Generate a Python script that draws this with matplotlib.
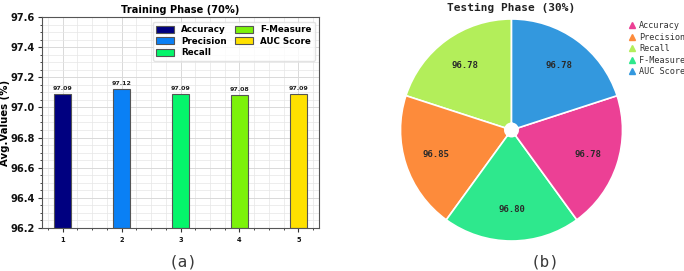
import matplotlib
matplotlib.use("Agg")
import matplotlib.pyplot as plt
from matplotlib.ticker import MultipleLocator
from matplotlib.lines import Line2D
import numpy as np

# ---- data ----
metrics = ["Accuracy", "Precision", "Recall", "F-Measure", "AUC Score"]
x_ticks = [1, 2, 3, 4, 5]
train_values = [97.09, 97.12, 97.09, 97.08, 97.09]
test_values = [96.78, 96.85, 96.78, 96.80, 96.78]
bar_colors = ["#000080", "#0a80f5", "#05f56b", "#7cf20a", "#ffe100"]
pie_colors = ["#ec4095", "#fd8b3b", "#b3ee5a", "#2ee88d", "#3398de"]
# order of wedges counter-clockwise from the top
pie_order = [2, 1, 3, 0, 4]

fig = plt.figure(figsize=(6.84, 2.71), dpi=100)

# ---- left: bar chart ----
ax = fig.add_axes([0.0614, 0.160, 0.405, 0.776])
ax.set_axisbelow(True)
for xi, v, c, lab in zip(x_ticks, train_values, bar_colors, metrics):
    ax.bar(xi, v - 96.2, bottom=96.2, width=0.3, color=c, edgecolor="#555555",
           linewidth=0.8, label=lab)
    ax.text(xi, v + 0.02, f"{v:.2f}", ha="center", va="bottom",
            fontsize=4.5, fontweight="bold", color="#222222")
ax.set_xlim(0.65, 5.35)
ax.set_ylim(96.2, 97.6)
ax.xaxis.set_major_locator(MultipleLocator(1))
ax.xaxis.set_minor_locator(MultipleLocator(0.25))
ax.yaxis.set_major_locator(MultipleLocator(0.2))
ax.yaxis.set_minor_locator(MultipleLocator(0.05))
ax.grid(which="major", color="#d9d9d9", linewidth=0.7)
ax.grid(which="minor", color="#e6e6e6", linewidth=0.5)
ax.tick_params(axis="y", labelsize=7.1, width=0.8, length=3, colors="#333333",
               labelcolor="#111111", pad=2)
ax.tick_params(axis="x", labelsize=4.8, width=0.8, length=3, colors="#333333",
               labelcolor="#111111")
ax.tick_params(which="minor", length=1.5, width=0.5)
for lbl in ax.get_yticklabels() + ax.get_xticklabels():
    lbl.set_fontweight("bold")
ax.set_ylabel("Avg.Values (%)", fontsize=7.3, fontweight="bold", va="center")
ax.yaxis.set_label_coords(-0.132, 0.5)
ax.set_title("Training Phase (70%)", fontsize=7.1, fontweight="bold", pad=3)
for s in ax.spines.values():
    s.set_color("#555555")
    s.set_linewidth(0.8)
leg = ax.legend(loc="upper right", ncol=2,
                prop={"weight": "bold", "size": 6.3}, frameon=True,
                handlelength=2.0, handleheight=0.9, columnspacing=1.0,
                labelspacing=0.3, borderpad=0.4, fancybox=True)
leg.get_frame().set_edgecolor("#dddddd")

fig.text(183 / 684, 1 - 262 / 271, "(a)", ha="center", va="center",
         fontsize=11.5, family="DejaVu Sans Mono", color="#3a3a3a")

# ---- right: pie chart ----
pax = fig.add_axes([400.5 / 684, (271 - 241) / 271, 222 / 684, 222 / 271])
vals = [test_values[i] for i in pie_order]
cols = [pie_colors[i] for i in pie_order]
wedges, texts = pax.pie(vals, colors=cols, startangle=90, counterclock=True,
                        wedgeprops=dict(width=0.94, edgecolor="white",
                                        linewidth=1.2))
for w, v in zip(wedges, vals):
    ang = np.deg2rad((w.theta1 + w.theta2) / 2)
    pax.text(0.72 * np.cos(ang), 0.72 * np.sin(ang), f"{v:.2f}",
             ha="center", va="center", fontsize=6.5, fontweight="bold",
             family="DejaVu Sans Mono", color="#2a2a2a")
pax.set_xlim(-1, 1)
pax.set_ylim(-1, 1)
pax.set_aspect("equal")
pax.axis("off")
fig.text(511.5 / 684, 1 - 8 / 271, "Testing Phase (30%)", ha="center",
         va="center", fontsize=8, fontweight="bold",
         family="DejaVu Sans Mono", color="#222222")

handles = [Line2D([0], [0], marker="^", linestyle="none", markersize=4.5,
                  markerfacecolor=c, markeredgecolor=c) for c in pie_colors]
fig.legend(handles, metrics, loc="upper left",
           bbox_to_anchor=(624 / 684, 1 - 16 / 271), frameon=False,
           prop={"family": "DejaVu Sans Mono", "size": 6.1},
           handlelength=0.8, handletextpad=0.4, labelspacing=0.3,
           borderpad=0.1, labelcolor="#333333")

fig.text(545 / 684, 1 - 262 / 271, "(b)", ha="center", va="center",
         fontsize=11.5, family="DejaVu Sans Mono", color="#3a3a3a")

fig.savefig("out.png", dpi=100, facecolor="white")
